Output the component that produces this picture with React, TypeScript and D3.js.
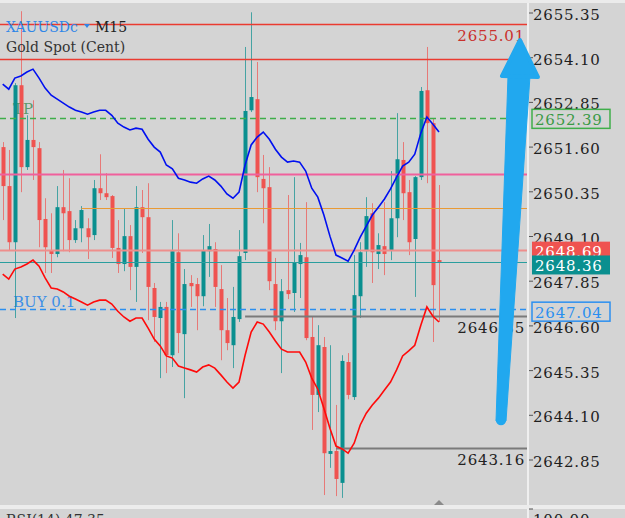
import { useEffect, useRef } from "react";
import * as d3 from "d3";

// M15 candles (oldest first)
const opens = [
  2651.6, 2650.51, 2648.94, 2653.33, 2651.04, 2651.8, 2651.57, 2649.59, 2648.72, 2648.61,
  2649.92, 2649.81, 2649.0, 2649.33, 2649.33, 2649.14, 2650.45, 2650.31, 2650.23, 2648.78,
  2648.33, 2649.11, 2648.25, 2649.92, 2649.64, 2647.66, 2646.82, 2647.13, 2645.78, 2648.66,
  2646.37, 2647.8, 2647.77, 2647.43, 2648.69, 2648.75, 2647.63, 2646.48, 2646.06, 2646.79,
  2648.64, 2652.63, 2652.94, 2650.71, 2650.48, 2647.77, 2646.73, 2647.6, 2647.52, 2648.33,
  2648.52, 2646.29, 2644.67, 2646.01, 2643.02, 2643.1, 2642.21, 2645.59, 2644.61, 2647.43,
  2648.69, 2649.75, 2648.61, 2648.83, 2648.72, 2649.61, 2651.24, 2650.34, 2649.03, 2650.76,
  2653.19, 2652.27, 2648.44,
];
const highs = [
  2651.74, 2651.52, 2653.39, 2655.4, 2652.49, 2652.91, 2651.74, 2650.17, 2649.75, 2650.51,
  2650.96, 2650.73, 2649.56, 2649.95, 2649.61, 2650.68, 2651.4, 2650.87, 2650.26, 2649.56,
  2649.87, 2649.42, 2650.51, 2650.4, 2650.59, 2647.8, 2647.27, 2647.27, 2649.56, 2649.19,
  2648.19, 2648.02, 2647.94, 2649.14, 2649.45, 2648.94, 2648.3, 2647.38, 2647.69, 2649.28,
  2654.4, 2655.37, 2653.98, 2651.38, 2651.04, 2648.5, 2647.91, 2650.26, 2650.76, 2648.92,
  2650.06, 2646.87, 2646.62, 2646.29, 2646.06, 2644.39, 2645.78, 2645.84, 2648.58, 2648.94,
  2650.2, 2650.03, 2649.19, 2650.06, 2650.93, 2652.55, 2651.74, 2650.68, 2650.79, 2653.28,
  2654.4, 2652.41, 2650.54,
];
const lows = [
  2649.56, 2648.72, 2646.82, 2650.34, 2650.96, 2650.68, 2648.8, 2648.08, 2648.08, 2648.52,
  2648.69, 2648.66, 2648.92, 2648.94, 2648.47, 2649.0, 2650.12, 2650.12, 2648.5, 2648.08,
  2648.13, 2647.6, 2647.27, 2648.64, 2646.76, 2646.15, 2645.14, 2645.28, 2645.45, 2645.84,
  2644.58, 2647.13, 2646.48, 2647.15, 2647.97, 2647.13, 2645.64, 2645.92, 2645.42, 2646.71,
  2648.44, 2652.58, 2650.34, 2649.47, 2647.6, 2646.48, 2645.28, 2647.35, 2646.99, 2647.38,
  2646.2, 2643.69, 2644.19, 2641.87, 2642.63, 2641.84, 2641.79, 2644.55, 2644.53, 2646.82,
  2648.25, 2647.8, 2648.19, 2648.02, 2648.44, 2649.08, 2649.56, 2648.58, 2647.41, 2650.68,
  2650.59, 2646.15, 2646.71,
];
const closes = [
  2650.51, 2648.94, 2653.33, 2651.04, 2651.8, 2651.6, 2649.56, 2648.8, 2648.61, 2649.92,
  2649.75, 2649.0, 2649.33, 2649.84, 2649.08, 2650.45, 2650.31, 2650.2, 2648.78, 2648.33,
  2649.11, 2648.25, 2649.92, 2649.64, 2647.69, 2646.85, 2647.13, 2645.78, 2648.69, 2646.4,
  2647.77, 2647.71, 2647.43, 2648.72, 2648.83, 2647.69, 2646.48, 2646.12, 2646.85, 2648.55,
  2652.61, 2653.0, 2650.76, 2650.45, 2647.85, 2646.73, 2647.57, 2647.49, 2648.36, 2648.58,
  2646.26, 2644.67, 2646.06, 2643.04, 2643.1, 2642.32, 2645.62, 2644.67, 2647.46, 2648.66,
  2649.67, 2648.66, 2648.86, 2648.61, 2649.61, 2651.26, 2650.31, 2648.94, 2650.76, 2653.17,
  2652.27, 2647.74, 2648.36,
];

// envelope bands (blue upper, red lower)
const upperBand = [
  2653.36, 2653.22, 2653.53, 2653.59, 2653.7, 2653.78, 2653.53, 2653.25, 2653.05, 2652.94,
  2652.83, 2652.72, 2652.63, 2652.58, 2652.52, 2652.58, 2652.63, 2652.63, 2652.49, 2652.27,
  2652.16, 2652.08, 2652.13, 2652.1, 2651.82, 2651.6, 2651.46, 2651.1, 2650.99, 2650.73,
  2650.68, 2650.62, 2650.59, 2650.71, 2650.79, 2650.68, 2650.51, 2650.29, 2650.17, 2650.34,
  2651.1, 2651.66, 2651.88, 2652.02, 2651.82, 2651.54, 2651.32, 2651.18, 2651.21, 2651.18,
  2650.93, 2650.45, 2650.2, 2649.7, 2649.11, 2648.58, 2648.5, 2648.41, 2648.72, 2649.08,
  2649.39, 2649.7, 2649.92, 2650.15, 2650.43, 2650.76, 2651.07, 2651.18, 2651.4, 2651.99,
  2652.44, 2652.24, 2652.02,
];
const lowerBand = [
  2648.05, 2647.91, 2648.19, 2648.25, 2648.33, 2648.44, 2648.27, 2647.94, 2647.66, 2647.63,
  2647.55, 2647.43, 2647.35, 2647.27, 2647.18, 2647.27, 2647.32, 2647.32, 2647.21, 2647.01,
  2646.85, 2646.73, 2646.82, 2646.82, 2646.54, 2646.23, 2646.04, 2645.76, 2645.7, 2645.48,
  2645.42, 2645.37, 2645.31, 2645.45, 2645.51, 2645.42, 2645.23, 2645.03, 2644.86, 2645.03,
  2645.78, 2646.43, 2646.71, 2646.65, 2646.43, 2646.18, 2645.95, 2645.87, 2645.87, 2645.87,
  2645.59, 2645.14, 2644.83, 2644.3, 2643.74, 2643.24, 2643.16, 2643.04, 2643.32, 2643.83,
  2644.16, 2644.39, 2644.58, 2644.81, 2645.03, 2645.37, 2645.76, 2645.9, 2646.06, 2646.62,
  2647.13, 2646.87, 2646.71,
];

const axisTicks = [
  2655.35, 2654.1, 2652.85, 2651.6, 2650.35, 2649.1, 2647.85, 2646.6, 2645.35, 2644.1, 2642.85,
];

// order / level lines
const stopLevels = [2655.01, 2654.04];
const tpPrice = 2652.39;
const pinkLevel = 2650.83;
const orangeLevel = 2649.86;
const orangeFrom = 13;
const askPrice = 2648.69;
const bidPrice = 2648.36;
const buyPrice = 2647.04;
const grayLevels = [2646.85, 2643.16];
const grayFrom = [40, 55];

const fmt = (v) => v.toFixed(2);

function GoldChart() {
  const ref = useRef(null);

  useEffect(() => {
    const width = 625;
    const height = 518;
    const plotRight = 527;
    const font = "DejaVu Serif";
    const bg = "#d4d4d4";
    const teal = "#0a8f8f";
    const red = "#ef5350";

    const x = d3.scaleLinear([0, opens.length - 1], [2.7, 439]);
    const y = d3.scaleLinear([2642.85, 2655.35], [460, 13]);

    const svg = d3
      .select(ref.current)
      .append("svg")
      .attr("width", width)
      .attr("height", height)
      .style("display", "block");

    svg.append("rect").attr("width", width).attr("height", height).attr("fill", bg);
    svg.append("rect").attr("width", width).attr("height", 3).attr("fill", "#ebebeb");

    // texts that sit under the candles
    svg
      .append("text")
      .attr("x", 13)
      .attr("y", 114)
      .attr("font-family", font)
      .attr("font-size", 15)
      .attr("fill", "#5b9a6b")
      .text("TP");

    svg
      .append("text")
      .attr("x", 13)
      .attr("y", 307)
      .attr("font-family", font)
      .attr("font-size", 15)
      .attr("fill", "#3d8fe6")
      .text("BUY 0.1");

    // candles
    const idx = d3.range(opens.length);
    const colorOf = (i) => (closes[i] >= opens[i] ? teal : red);

    svg
      .append("g")
      .selectAll("line")
      .data(idx)
      .join("line")
      .attr("x1", (i) => Math.round(x(i)) + 0.5)
      .attr("x2", (i) => Math.round(x(i)) + 0.5)
      .attr("y1", (i) => y(highs[i]))
      .attr("y2", (i) => y(lows[i]))
      .attr("stroke", colorOf)
      .attr("stroke-opacity", 0.7)
      .attr("stroke-width", 1);

    svg
      .append("g")
      .selectAll("rect")
      .data(idx)
      .join("rect")
      .attr("x", (i) => Math.round(x(i)) - 1.5)
      .attr("width", 4)
      .attr("y", (i) => y(Math.max(opens[i], closes[i])))
      .attr("height", (i) => Math.max(1.5, Math.abs(y(opens[i]) - y(closes[i]))))
      .attr("fill", colorOf);

    // horizontal levels
    const hline = (price, x0, color, w, dash) =>
      svg
        .append("line")
        .attr("x1", x0)
        .attr("x2", plotRight)
        .attr("y1", Math.round(y(price)) - 0.5)
        .attr("y2", Math.round(y(price)) - 0.5)
        .attr("stroke", color)
        .attr("stroke-width", w)
        .attr("stroke-dasharray", dash || null);

    stopLevels.forEach((p) => hline(p, 0, "#ea3b30", 1.5));
    hline(tpPrice, 0, "#3fae4a", 1.5, "6,4");
    hline(pinkLevel, 0, "#f0609c", 2);
    hline(orangeLevel, x(orangeFrom), "#e99a35", 1);
    hline(askPrice, 0, "#ee8e8c", 2);
    hline(bidPrice, 0, "#2a9e9e", 1);
    hline(buyPrice, 0, "#2b8ff0", 1.5, "6,4");
    grayLevels.forEach((p, k) => hline(p, x(grayFrom[k]), "#7a7a7a", 2));

    // bands
    const band = d3
      .line()
      .x((d, i) => x(i))
      .y((d) => y(d));

    svg
      .append("path")
      .attr("d", band(upperBand))
      .attr("fill", "none")
      .attr("stroke", "#0010f0")
      .attr("stroke-width", 1.6);

    svg
      .append("path")
      .attr("d", band(lowerBand))
      .attr("fill", "none")
      .attr("stroke", "#ff0a0a")
      .attr("stroke-width", 1.6);

    // level labels inside the plot
    const levelLabel = (price, color) =>
      svg
        .append("text")
        .attr("x", 525)
        .attr("y", y(price) + 16)
        .attr("text-anchor", "end")
        .attr("font-family", font)
        .attr("font-size", 15)
        .attr("letter-spacing", 0.8)
        .attr("fill", color)
        .text(fmt(price));

    levelLabel(stopLevels[0], "#c9302c");
    grayLevels.forEach((p) => levelLabel(p, "#222"));

    // price axis
    svg
      .append("line")
      .attr("x1", plotRight + 1)
      .attr("x2", plotRight + 1)
      .attr("y1", 3)
      .attr("y2", height)
      .attr("stroke", "#efefef")
      .attr("stroke-width", 2);

    const ticks = svg.append("g");
    ticks
      .selectAll("line")
      .data(axisTicks)
      .join("line")
      .attr("x1", plotRight + 2)
      .attr("x2", plotRight + 6)
      .attr("y1", (d) => y(d))
      .attr("y2", (d) => y(d))
      .attr("stroke", "#555");
    ticks
      .selectAll("text")
      .data(axisTicks)
      .join("text")
      .attr("x", 533)
      .attr("y", (d) => y(d) + 7)
      .attr("font-family", font)
      .attr("font-size", 15)
      .attr("letter-spacing", 0.8)
      .attr("fill", "#1e1e1e")
      .text(fmt);

    // axis tags
    const tag = (price, fill, stroke, textColor, dy) => {
      const cy = y(price) + dy;
      svg
        .append("rect")
        .attr("x", 532)
        .attr("y", cy - 9.5)
        .attr("width", 78)
        .attr("height", 19)
        .attr("fill", fill)
        .attr("stroke", stroke || "none")
        .attr("stroke-width", 1.5);
      svg
        .append("text")
        .attr("x", 535)
        .attr("y", cy + 6)
        .attr("font-family", font)
        .attr("font-size", 15)
        .attr("letter-spacing", 0.8)
        .attr("fill", textColor)
        .text(fmt(price));
    };

    tag(tpPrice, bg, "#3fae4a", "#3a9a45", 0);
    tag(askPrice, red, null, "#fff", 0);
    tag(bidPrice, teal, null, "#fff", 2);
    tag(buyPrice, bg, "#2b8ff0", "#2b8ff0", 1.5);

    // lower window separator
    svg.append("rect").attr("y", 505).attr("width", width).attr("height", 4).attr("fill", "#ececec");
    svg
      .append("path")
      .attr("d", "M434,505 L444,505 L439,500 Z")
      .attr("fill", "#8a8a8a");
    svg
      .append("line")
      .attr("x1", plotRight + 2)
      .attr("x2", plotRight + 6)
      .attr("y1", 509)
      .attr("y2", 509)
      .attr("stroke", "#555");
    svg
      .append("text")
      .attr("x", 533)
      .attr("y", 525)
      .attr("font-family", font)
      .attr("font-size", 15)
      .attr("letter-spacing", 0.8)
      .attr("fill", "#1e1e1e")
      .text("100.00");
    svg
      .append("text")
      .attr("x", 6)
      .attr("y", 525)
      .attr("font-family", font)
      .attr("font-size", 14)
      .attr("fill", "#333")
      .text("RSI(14) 47.35");

    // title
    svg
      .append("text")
      .attr("x", 6)
      .attr("y", 32)
      .attr("font-family", font)
      .attr("font-size", 14)
      .attr("fill", "#2f86e8")
      .text("XAUUSDc");
    svg.append("path").attr("d", "M84,24 L90,24 L87,28 Z").attr("fill", "#2f86e8");
    svg
      .append("text")
      .attr("x", 95)
      .attr("y", 32)
      .attr("font-family", font)
      .attr("font-size", 14)
      .attr("fill", "#222")
      .text("M15");
    svg
      .append("text")
      .attr("x", 6)
      .attr("y", 52)
      .attr("font-family", font)
      .attr("font-size", 14)
      .attr("fill", "#333")
      .text("Gold Spot (Cent)");

    // hand-drawn arrow
    const arrow = svg.append("g").attr("fill", "#21a8ef").attr("stroke", "#21a8ef");
    arrow
      .append("path")
      .attr("d", "M508,76 L530,76 L506,421 L496,421 Z")
      .attr("stroke-width", 1);
    arrow.append("circle").attr("cx", 501).attr("cy", 420).attr("r", 5.2).attr("stroke", "none");
    arrow
      .append("path")
      .attr("d", "M520,40 L502,76 L538,77 Z")
      .attr("stroke-width", 4)
      .attr("stroke-linejoin", "round");

    return () => {
      d3.select(ref.current).select("svg").remove();
    };
  }, []);

  return <div ref={ref} style={{ position: "fixed", left: 0, top: 0 }}></div>;
}

export default function App() {
  return <GoldChart />;
}
